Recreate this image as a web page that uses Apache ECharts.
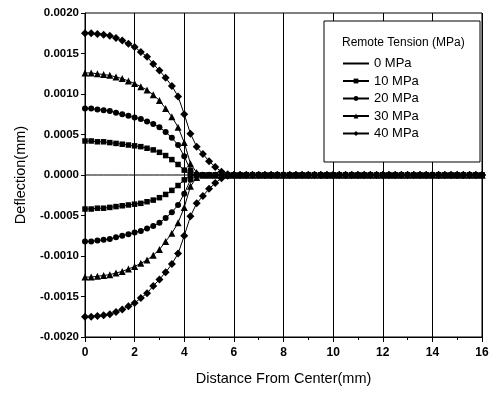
<!DOCTYPE html>
<html>
<head>
<meta charset="utf-8">
<script src="https://cdn.jsdelivr.net/npm/echarts@6/dist/echarts.min.js"></script>
<style>html,body{margin:0;padding:0;background:#fff}#c{width:495px;height:397px}</style>
</head>
<body>
<div id="c"></div>
<script>
var FONT = "'Liberation Sans',Arial,sans-serif";
var distance = [0,0.25,0.5,0.75,1,1.25,1.5,1.75,2,2.25,2.5,2.75,3,3.25,3.5,3.75,4,4.25,4.5,4.75,5,5.25,5.5,5.75,6,6.25,6.5,6.75,7,7.25,7.5,7.75,8,8.25,8.5,8.75,9,9.25,9.5,9.75,10,10.25,10.5,10.75,11,11.25,11.5,11.75,12,12.25,12.5,12.75,13,13.25,13.5,13.75,14,14.25,14.5,14.75,15,15.25,15.5,15.75,16];
var legendNames = ['0 MPa','10 MPa','20 MPa','30 MPa','40 MPa'];
var legendTitle = 'Remote Tension (MPa)';
var xTicks = [0,2,4,6,8,10,12,14,16];
var yTicks = [-0.002,-0.0015,-0.001,-0.0005,0,0.0005,0.001,0.0015,0.002];

var d0 = [0,0,0,0,0,0,0,0,0,0,0,0,0,0,0,0,0,0,0,0,0,0,0,0,0,0,0,0,0,0,0,0,0,0,0,0,0,0,0,0,0,0,0,0,0,0,0,0,0,0,0,0,0,0,0,0,0,0,0,0,0,0,0,0,0];
var d10Up = [0.00042,0.00042,0.00041,0.00041,0.00040,0.00039,0.00038,0.00037,0.00036,0.00035,0.00033,0.00031,0.00028,0.00024,0.00019,0.00013,0.00006,0.00001,0,0,0,0,0,0,0,0,0,0,0,0,0,0,0,0,0,0,0,0,0,0,0,0,0,0,0,0,0,0,0,0,0,0,0,0,0,0,0,0,0,0,0,0,0,0,0];
var d10Dn = [-0.00042,-0.00042,-0.00041,-0.00041,-0.00040,-0.00039,-0.00038,-0.00037,-0.00036,-0.00035,-0.00033,-0.00031,-0.00028,-0.00024,-0.00019,-0.00013,-0.00006,-0.00001,0,0,0,0,0,0,0,0,0,0,0,0,0,0,0,0,0,0,0,0,0,0,0,0,0,0,0,0,0,0,0,0,0,0,0,0,0,0,0,0,0,0,0,0,0,0,0];
var d20Up = [0.00082,0.00082,0.00081,0.00080,0.00079,0.00077,0.00075,0.00073,0.00071,0.00069,0.00066,0.00063,0.00059,0.00053,0.00046,0.00037,0.00023,0.00006,0.00001,0,0,0,0,0,0,0,0,0,0,0,0,0,0,0,0,0,0,0,0,0,0,0,0,0,0,0,0,0,0,0,0,0,0,0,0,0,0,0,0,0,0,0,0,0,0];
var d20Dn = [-0.00082,-0.00082,-0.00081,-0.00080,-0.00079,-0.00077,-0.00075,-0.00073,-0.00071,-0.00069,-0.00066,-0.00063,-0.00059,-0.00053,-0.00046,-0.00037,-0.00023,-0.00006,-0.00001,0,0,0,0,0,0,0,0,0,0,0,0,0,0,0,0,0,0,0,0,0,0,0,0,0,0,0,0,0,0,0,0,0,0,0,0,0,0,0,0,0,0,0,0,0,0];
var d30Up = [0.00126,0.00126,0.00125,0.00124,0.00123,0.00121,0.00119,0.00116,0.00113,0.00109,0.00105,0.00099,0.00092,0.00082,0.00072,0.00059,0.00040,0.00014,0.00003,0,0,0,0,0,0,0,0,0,0,0,0,0,0,0,0,0,0,0,0,0,0,0,0,0,0,0,0,0,0,0,0,0,0,0,0,0,0,0,0,0,0,0,0,0,0];
var d30Dn = [-0.00126,-0.00126,-0.00125,-0.00124,-0.00123,-0.00121,-0.00119,-0.00116,-0.00113,-0.00109,-0.00105,-0.00099,-0.00092,-0.00082,-0.00072,-0.00059,-0.00040,-0.00014,-0.00003,0,0,0,0,0,0,0,0,0,0,0,0,0,0,0,0,0,0,0,0,0,0,0,0,0,0,0,0,0,0,0,0,0,0,0,0,0,0,0,0,0,0,0,0,0,0];
var d40Up = [0.00175,0.00175,0.00174,0.00173,0.00172,0.00169,0.00166,0.00162,0.00158,0.00152,0.00146,0.00137,0.00129,0.00120,0.00110,0.00097,0.00075,0.00051,0.00035,0.00026,0.00017,0.00010,0.00004,0.00001,0,0,0,0,0,0,0,0,0,0,0,0,0,0,0,0,0,0,0,0,0,0,0,0,0,0,0,0,0,0,0,0,0,0,0,0,0,0,0,0,0];
var d40Dn = [-0.00175,-0.00175,-0.00174,-0.00173,-0.00172,-0.00169,-0.00166,-0.00162,-0.00158,-0.00152,-0.00146,-0.00137,-0.00129,-0.00120,-0.00110,-0.00097,-0.00075,-0.00051,-0.00035,-0.00026,-0.00017,-0.00010,-0.00004,-0.00001,0,0,0,0,0,0,0,0,0,0,0,0,0,0,0,0,0,0,0,0,0,0,0,0,0,0,0,0,0,0,0,0,0,0,0,0,0,0,0,0,0];

function pairs(ys){ return distance.map(function(x,i){ return [x, ys[i]]; }); }
function mkSeries(name, ys, symbol, size){
  return {
    name: name, type: 'line', data: pairs(ys),
    symbol: symbol, symbolSize: size, showSymbol: symbol !== 'none',
    lineStyle: {color:'#000', width:1}, itemStyle: {color:'#000'},
    animation: false, z: 3
  };
}
var series = [
  mkSeries(legendNames[0], d0, 'none', 0),
  mkSeries(legendNames[1], d10Up, 'rect', 5.5),
  mkSeries(legendNames[1], d10Dn, 'rect', 5.5),
  mkSeries(legendNames[2], d20Up, 'circle', 6),
  mkSeries(legendNames[2], d20Dn, 'circle', 6),
  mkSeries(legendNames[3], d30Up, 'triangle', 7),
  mkSeries(legendNames[3], d30Dn, 'triangle', 7),
  mkSeries(legendNames[4], d40Up, 'diamond', 8),
  mkSeries(legendNames[4], d40Dn, 'diamond', 8)
];

var legendData = legendNames.map(function(n, i){
  return i === 0 ? {name: n, itemStyle: {color: 'rgba(0,0,0,0)', borderWidth: 0}} : {name: n};
});

var chart = echarts.init(document.getElementById('c'), null, {renderer:'canvas'});
chart.setOption({
  animation: false,
  backgroundColor: '#fff',
  grid: {left: 85, right: 13, top: 13, bottom: 60, show: true, borderColor: '#000', borderWidth: 1, backgroundColor: 'transparent'},
  xAxis: {
    type: 'value', min: xTicks[0], max: xTicks[xTicks.length-1], interval: 2,
    name: 'Distance From Center(mm)', nameLocation: 'middle', nameGap: 34,
    nameTextStyle: {fontFamily: FONT, fontSize: 14.5, color: '#000'},
    axisLine: {show: true, onZero: false, lineStyle: {color: '#000', width: 1}},
    axisTick: {show: true, inside: false, length: 5, lineStyle: {color: '#000'}},
    minorTick: {show: true, splitNumber: 2, length: 3, lineStyle: {color: '#000'}},
    axisLabel: {fontFamily: FONT, fontSize: 12, fontWeight: 'bold', color: '#000', margin: 10},
    splitLine: {show: true, lineStyle: {color: '#000', width: 1}}
  },
  yAxis: {
    type: 'value', min: yTicks[0], max: yTicks[yTicks.length-1], interval: 0.0005,
    name: 'Deflection(mm)', nameLocation: 'middle', nameGap: 57,
    nameTextStyle: {fontFamily: FONT, fontSize: 14.5, color: '#000'},
    axisLine: {show: true, onZero: false, lineStyle: {color: '#000', width: 1}},
    axisTick: {show: true, inside: false, length: 4, lineStyle: {color: '#000'}},
    minorTick: {show: false},
    axisLabel: {fontFamily: FONT, fontSize: 11.5, fontWeight: 'bold', color: '#000', margin: 6,
      formatter: function(v){ return v.toFixed(4); }},
    splitLine: {show: false}
  },
  graphic: [
    {type: 'rect', shape: {x: 324, y: 21, width: 156, height: 141}, style: {fill: '#fff', stroke: '#000', lineWidth: 1}, z: 50},
    {type: 'text', x: 342, y: 37, style: {text: legendTitle, font: "12px 'Liberation Sans',Arial", fill: '#000'}, z: 51}
  ],
  legend: {
    data: legendData, orient: 'vertical', left: 337, top: 52,
    itemWidth: 26, itemHeight: 6, itemGap: 4.5, z: 60,
    textStyle: {fontFamily: FONT, fontSize: 13, color: '#000'},
    selectedMode: false
  },
  series: series
});
</script>
</body>
</html>
